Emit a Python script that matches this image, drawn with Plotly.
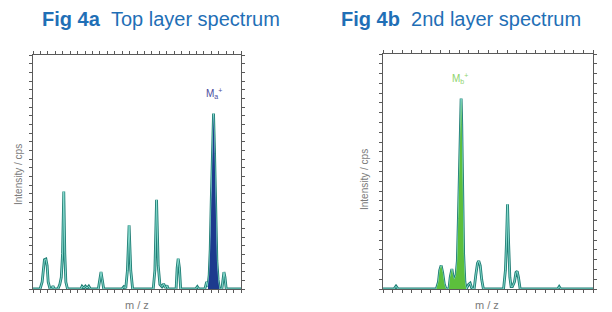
import plotly.graph_objects as go

# ---- data (m/z and intensity in arbitrary units) ----
mz_a = [0, 3.4, 4.4, 5.0, 5.5, 6.2, 6.8, 7.3, 8.2, 9.0, 9.6, 10.2, 12.0, 12.9, 13.6, 14.2, 14.8, 15.3, 15.8, 16.6,
        23.0, 23.6, 24.4, 25.2, 26.0, 26.8, 27.6, 31.4, 32.1, 32.7, 33.3, 34.0, 42.8, 43.7, 44.6, 45.4, 46.2, 47.0, 47.9,
        57.8, 58.6, 59.4, 60.2, 61.0, 62.0, 62.8, 63.6, 64.4, 65.0, 68.8, 69.3, 69.8, 70.4, 71.0, 78.2, 79.0, 79.8,
        82.6, 83.5, 84.1, 84.7, 85.2, 85.7, 86.3, 86.8, 87.3, 87.9, 88.4, 89.0, 89.6, 90.8, 91.3, 91.8, 92.3, 92.9, 100]
int_a = [0, 0, 0.03, 0.10, 0.125, 0.128, 0.10, 0.03, 0, 0, 0.013, 0, 0, 0.02, 0.05, 0.15, 0.417, 0.15, 0.03, 0,
         0, 0.012, 0.004, 0.012, 0.004, 0.012, 0, 0, 0.04, 0.073, 0.04, 0, 0, 0.01, 0.004, 0.08, 0.272, 0.08, 0,
         0, 0.08, 0.381, 0.10, 0.02, 0.01, 0.022, 0.005, 0.015, 0, 0, 0.09, 0.13, 0.09, 0, 0, 0.01, 0,
         0, 0.03, 0.01, 0.06, 0.17, 0.38, 0.62, 0.75, 0.58, 0.32, 0.12, 0.04, 0, 0, 0.05, 0.072, 0.05, 0, 0]
fill_a = (84.1, 89.6)
peak_a = (86.8, 0.75)

mz_b = [0, 5.2, 6.2, 7.2, 25.4, 26.4, 27.0, 27.7, 28.4, 29.2, 30.0, 31.4, 32.0, 32.8, 33.4, 34.0, 34.8, 35.4, 35.9,
        36.4, 36.9, 37.2, 37.5, 37.9, 38.4, 39.0, 39.6, 40.8, 41.5, 42.2, 43.4, 44.2, 45.0, 45.6, 46.3, 47.0, 47.8,
        57.4, 58.3, 58.8, 59.3, 59.8, 60.4, 61.0, 61.6, 62.6, 63.3, 63.9, 64.5, 65.3, 83.2, 83.9, 84.6, 100]
int_b = [0, 0, 0.012, 0, 0, 0.03, 0.08, 0.10, 0.07, 0.02, 0, 0, 0.05, 0.085, 0.05, 0.04, 0.06, 0.12, 0.3,
         0.55, 0.75, 0.81, 0.7, 0.45, 0.15, 0.03, 0, 0.02, 0.025, 0.005, 0, 0.06, 0.11, 0.12, 0.10, 0.04, 0,
         0, 0.08, 0.2, 0.36, 0.2, 0.05, 0.01, 0.01, 0.03, 0.07, 0.075, 0.05, 0, 0, 0.01, 0, 0]
fill_b = (25.4, 39.6)
peak_b = (36.8, 0.81)

titles = ["<b>Fig 4a</b>&nbsp;&nbsp;Top layer spectrum", "<b>Fig 4b</b>&nbsp;&nbsp;2nd layer spectrum"]
ion_labels = ["M<sub>a</sub><sup>+</sup>", "M<sub>b</sub><sup>+</sup>"]
y_title = "Intensity / cps"
x_title = "m / z"

# ---- styles ----
TEAL_DARK = "#1f7d74"
TEAL_LIGHT = "#8fe3d6"
FILL_COLORS = ["#1d3a8e", "#5cbf3c"]
LABEL_COLORS = ["#4b4b9c", "#8ed36c"]
TITLE_BLUE = "#1f6fb6"
GRAY = "#7a7a7a"
AXIS = "#5a5a5a"

fig = go.Figure()

panels = [
    dict(mz=mz_a, it=int_a, fr=fill_a, pk=peak_a, xa="x", ya="y"),
    dict(mz=mz_b, it=int_b, fr=fill_b, pk=peak_b, xa="x2", ya="y2"),
]
for i, p in enumerate(panels):
    fig.add_trace(go.Scatter(x=p["mz"], y=p["it"], mode="lines",
                             line=dict(color=TEAL_DARK, width=2.8), xaxis=p["xa"], yaxis=p["ya"],
                             showlegend=False))
    fig.add_trace(go.Scatter(x=p["mz"], y=p["it"], mode="lines",
                             line=dict(color=TEAL_LIGHT, width=0.9), xaxis=p["xa"], yaxis=p["ya"],
                             showlegend=False, hoverinfo="skip"))
    fx = [m for m in p["mz"] if p["fr"][0] <= m <= p["fr"][1]]
    fy = [v for m, v in zip(p["mz"], p["it"]) if p["fr"][0] <= m <= p["fr"][1]]
    fig.add_trace(go.Scatter(x=fx, y=fy, mode="lines", fill="tozeroy", fillcolor=FILL_COLORS[i],
                             line=dict(color=FILL_COLORS[i], width=0), xaxis=p["xa"], yaxis=p["ya"],
                             showlegend=False, hoverinfo="skip"))
    fig.add_annotation(x=p["pk"][0], y=p["pk"][1] + 0.05, xref=p["xa"], yref=p["ya"], text=ion_labels[i],
                       showarrow=False, yanchor="bottom", font=dict(size=10, color=LABEL_COLORS[i]))

ax_common = dict(showgrid=False, zeroline=False, showline=True, linecolor=AXIS, linewidth=1.2,
                 mirror="ticks", ticks="outside", ticklen=3, tickcolor=AXIS, tickwidth=1,
                 showticklabels=False, fixedrange=True)

fig.update_layout(
    width=612, height=312, margin=dict(l=0, r=0, t=0, b=0),
    paper_bgcolor="white", plot_bgcolor="white",
    font=dict(family="Liberation Sans, Arial, sans-serif"),
    xaxis=dict(domain=[33/612, 241/612], range=[0, 100], tick0=0, dtick=100/28, anchor="y", **ax_common),
    yaxis=dict(domain=[23/312, 257/312], range=[0, 1], tick0=0, dtick=1/27, anchor="x", **ax_common),
    xaxis2=dict(domain=[383/612, 593/612], range=[0, 100], tick0=0, dtick=100/22, anchor="y2", **ax_common),
    yaxis2=dict(domain=[23/312, 258/312], range=[0, 1], tick0=0, dtick=1/24, anchor="x2", **ax_common),
)

title_x = [161/612, 461/612]
ylab_x = [18/612, 365/612]
ylab_y = [(312-175)/312, (312-180)/312]
xlab_x = [137/612, 487/612]
for i in range(2):
    fig.add_annotation(x=title_x[i], y=1 - 19/312, xref="paper", yref="paper", text=titles[i],
                       showarrow=False, font=dict(size=20, color=TITLE_BLUE), xanchor="center", yanchor="middle")
    fig.add_annotation(x=ylab_x[i], y=ylab_y[i], xref="paper", yref="paper", text=y_title, textangle=-90,
                       showarrow=False, font=dict(size=10, color=GRAY), xanchor="center", yanchor="middle")
    fig.add_annotation(x=xlab_x[i], y=1 - 305/312, xref="paper", yref="paper", text=x_title,
                       showarrow=False, font=dict(size=11, color=GRAY), xanchor="center", yanchor="middle")

fig.write_html("out.html")
